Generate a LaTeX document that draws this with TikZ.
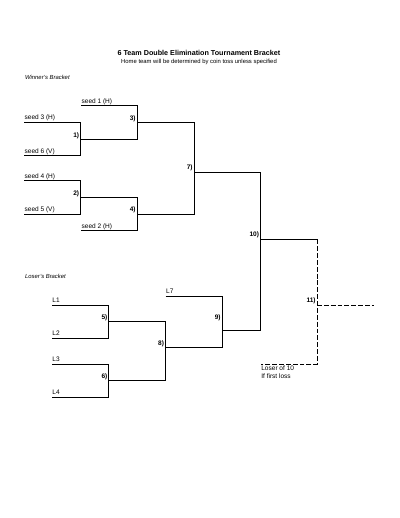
\documentclass[tikz,border=0pt]{standalone}
\usepackage{fontspec}
\setmainfont{Liberation Sans}
\begin{document}
\begin{tikzpicture}[x=1.53pt,y=-1.53pt,
  br/.style={line width=1.3pt, line join=miter, draw=black},
  dsh/.style={br, dash pattern=on 7.5pt off 3pt},
  lab/.style={font=\fontsize{10}{13}\selectfont, anchor=base west, inner sep=0pt},
  num/.style={font=\bfseries\fontsize{10}{12}\selectfont, anchor=base east, inner sep=0pt},
  hdr/.style={font=\itshape\fontsize{9}{11}\selectfont, anchor=base west, inner sep=0pt}]
\useasboundingbox (0,0) rectangle (400,518);
% titles
\node[anchor=base, inner sep=0pt, font=\bfseries\fontsize{11}{13}\selectfont] (title) at (199,55) {6 Team Double Elimination Tournament Bracket};
\node[anchor=base, inner sep=0pt, font=\fontsize{9}{11}\selectfont] (subtitle) at (199,63.4) {Home team will be determined by coin toss unless specified};
\node[hdr] (wb) at (25,79.4) {Winner's Bracket};
\node[hdr] (lb) at (25,278.2) {Loser's Bracket};
% winner's bracket coordinates
\coordinate (s1) at (81,105.7);   \coordinate (g3t) at (137,105.7);
\coordinate (s3) at (24,122.5);   \coordinate (g1t) at (80.5,122.5);
\coordinate (s6) at (24,155.7);   \coordinate (g1b) at (80.5,155.7);
\coordinate (g1o) at (80.5,139);  \coordinate (g3b) at (137,139);
\coordinate (g3o) at (137,122.3); \coordinate (g7t) at (194,122.3);
\coordinate (s4) at (24,180.7);   \coordinate (g2t) at (80.5,180.7);
\coordinate (s5) at (24,214);     \coordinate (g2b) at (80.5,214);
\coordinate (g2o) at (80.5,197.3);\coordinate (g4t) at (137,197.3);
\coordinate (s2) at (81,230.7);   \coordinate (g4b) at (137,230.7);
\coordinate (g4o) at (137,214);   \coordinate (g7b) at (194,214);
\coordinate (g7o) at (194,172.3); \coordinate (g10t) at (260.3,172.3);
\coordinate (g10o) at (260.3,239.3); \coordinate (g11t) at (317,239.3);
\coordinate (g10b) at (260.3,330);\coordinate (g9o) at (222,330);
% loser's bracket coordinates
\coordinate (l1) at (52,305);     \coordinate (g5t) at (108.7,305);
\coordinate (l2) at (52,338.3);   \coordinate (g5b) at (108.7,338.3);
\coordinate (g5o) at (108.7,321.7); \coordinate (g8t) at (165.3,321.7);
\coordinate (l3) at (52,364);     \coordinate (g6t) at (108.7,364);
\coordinate (l4) at (52,397);     \coordinate (g6b) at (108.7,397);
\coordinate (g6o) at (108.7,380.3); \coordinate (g8b) at (165.3,380.3);
\coordinate (g8o) at (165.3,347); \coordinate (g9b) at (222,347);
\coordinate (l7) at (165.7,296.3);\coordinate (g9t) at (222,296.3);
\coordinate (g11b) at (317,364);  \coordinate (lo) at (260.7,364);
\coordinate (g11o) at (317,305);  \coordinate (fin) at (374,305);
% winner's bracket lines
\draw[br] (s3) -- (g1t) -- (g1b) -- (s6);
\draw[br] (s1) -- (g3t) -- (g3b) -- (g1o);
\draw[br] (s4) -- (g2t) -- (g2b) -- (s5);
\draw[br] (g2o) -- (g4t) -- (g4b) -- (s2);
\draw[br] (g3o) -- (g7t) -- (g7b) -- (g4o);
\draw[br] (g7o) -- (g10t) -- (g10b) -- (g9o);
\draw[br] (g10o) -- (g11t);
% loser's bracket lines
\draw[br] (l1) -- (g5t) -- (g5b) -- (l2);
\draw[br] (l3) -- (g6t) -- (g6b) -- (l4);
\draw[br] (g5o) -- (g8t) -- (g8b) -- (g6o);
\draw[br] (l7) -- (g9t) -- (g9b) -- (g8o);
% final (if necessary)
\draw[dsh] (g11t) -- (g11b) -- (lo);
\draw[dsh] (g11o) -- (fin);
% team labels
\node[lab] (t1) at (81.5,103.1) {seed 1 (H)};
\node[lab] (t3) at (24.5,119.9) {seed 3 (H)};
\node[lab] (t6) at (24.5,153.1) {seed 6 (V)};
\node[lab] (t4) at (24.5,178.1) {seed 4 (H)};
\node[lab] (t5) at (24.5,211.4) {seed 5 (V)};
\node[lab] (t2) at (81.5,228.1) {seed 2 (H)};
\node[lab] (tl1) at (52.3,302.4) {L1};
\node[lab] (tl2) at (52.3,335.7) {L2};
\node[lab] (tl3) at (52.3,361.4) {L3};
\node[lab] (tl4) at (52.3,394.4) {L4};
\node[lab] (tl7) at (166,293.7) {L7};
\node[lab, anchor=north west, align=left] (tlo) at (261.2,365.4) {Loser of 10\\If first loss};
% game numbers
\node[num] (n1) at (79.2,137.2) {1)};
\node[num] (n3) at (135.8,120.2) {3)};
\node[num] (n2) at (79.2,195.2) {2)};
\node[num] (n4) at (135.8,211.9) {4)};
\node[num] (n7) at (192.8,169.9) {7)};
\node[num] (n10) at (259.1,236.9) {10)};
\node[num] (n5) at (107.5,319.5) {5)};
\node[num] (n6) at (107.5,378.2) {6)};
\node[num] (n8) at (164.1,345.2) {8)};
\node[num] (n9) at (220.8,319.2) {9)};
\node[num] (n11) at (315.8,302.2) {11)};
\end{tikzpicture}
\end{document}
